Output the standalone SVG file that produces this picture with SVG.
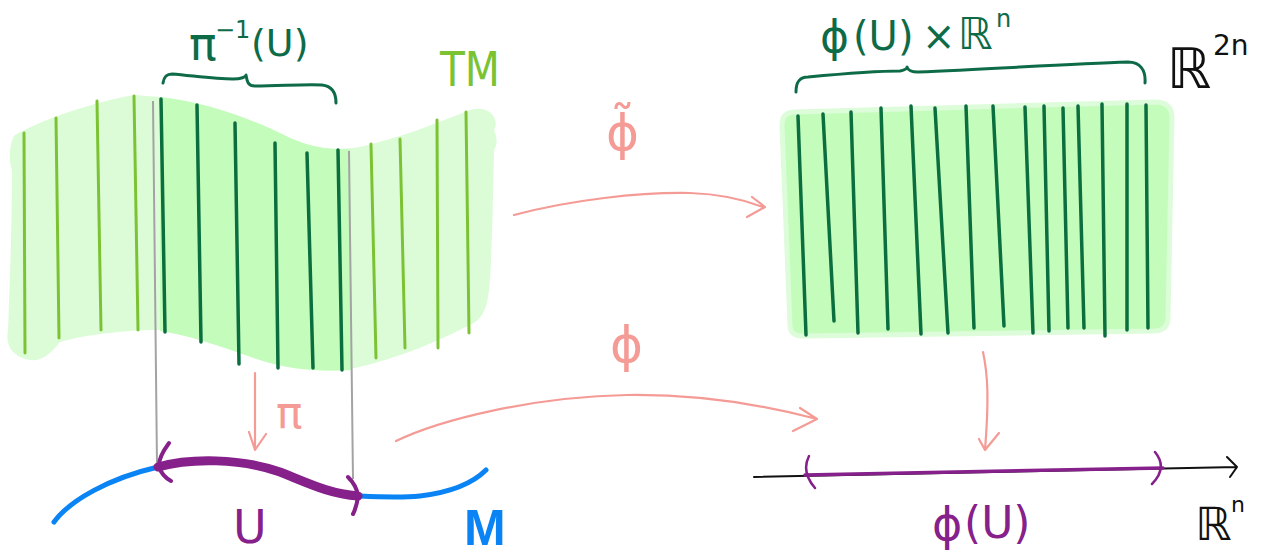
<svg xmlns="http://www.w3.org/2000/svg" width="1262" height="556" viewBox="0 0 1262 556">
<style>
.lg{stroke:#7cc334;stroke-width:3;fill:none;stroke-linecap:round}
.dg{stroke:#0b6e3f;stroke-width:3.5;fill:none;stroke-linecap:round}
.grey{stroke:#a3a3a3;stroke-width:2;fill:none}
.pink{stroke:#f59b96;stroke-width:2.2;fill:none;stroke-linecap:round;stroke-linejoin:round}
.brace{stroke:#0e6b48;stroke-width:3;fill:none;stroke-linecap:round;stroke-linejoin:round}
.purple{stroke:#86208a;fill:none;stroke-linecap:round;stroke-linejoin:round}
.blue{stroke:#0a84f5;stroke-width:5;fill:none;stroke-linecap:round}
.t{font-family:"DejaVu Sans","Liberation Sans",sans-serif}
</style>
<rect width="1262" height="556" fill="#ffffff"/>

<g id="TM">
<path d="M15,135 C40,120 100,100 135,95 L160,97 C220,105 260,125 300,142 C320,150 340,150 360,147 C400,138 440,122 470,110 C490,104 500,120 494,130 C498,140 497,146 494,150 C493,200 492,250 490,280 C488,305 485,318 470,325 C440,340 400,358 355,368 C320,372 290,368 260,360 C230,350 190,335 160,330 C120,330 80,336 60,342 C50,355 40,362 30,360 C12,357 5,345 8,330 C10,280 12,220 12,170 C8,160 10,140 15,135 Z" fill="#dcfcd8"/>
<path d="M160,97 C210,103 250,118 290,138 C310,147 330,150 350,149 L352,370 C320,372 290,370 260,360 C230,350 195,336 160,331 Z" fill="#c4fcbc"/>
<path class="lg" d="M24,133 L25,353 M56,118 L59,338 M97,101 L101,330 M134,96 L138,330 M371,144 L376,358 M400,139 L405,348 M437,120 L438,348 M466,112 L469,333"/>
<path class="dg" d="M161,99 L165,332 M197,105 L201,342 M235,123 L239,364 M275,143 L278,368 M307,153 L313,368 M338,150 L342,370"/>
<text class="t" x="440" y="86" font-size="48" fill="#7cc334" textLength="60" lengthAdjust="spacingAndGlyphs">TM</text>
</g>

<g id="preimage-label">
<path class="brace" d="M163,83 C164,77 166,74 172,74 C195,76 215,79 233,79 C241,79 246,77 246,75 C247,80 247,86 255,86 C280,86 305,84 322,85 C332,86 336,92 336,103"/>
<text class="t" fill="#0e6b48"><tspan x="189" y="60" font-size="46">π</tspan><tspan x="215" y="38" font-size="24">−1</tspan><tspan x="251" y="56" font-size="38">(U)</tspan></text>
</g>

<g id="projections">
<path class="grey" d="M153,101 L157,465 M349,151 L353,479"/>
</g>

<g id="M">
<path class="blue" d="M54,522 C70,500 110,478 158,467 M358,496 C380,497 400,498 420,496 C445,493 470,486 486,470"/>
<path class="purple" stroke-width="9" d="M158,467 C190,458 240,458 280,472 C310,484 330,494 358,496"/>
<path class="purple" stroke-width="4" d="M169,443 Q158,458 159,467 Q162,476 171,481 M348,477 Q357,486 358,496 Q357,506 353,514"/>
<text class="t" x="233" y="543" font-size="46" fill="#86208a">U</text>
<text x="464" y="545" font-size="50" fill="#0a84f5" font-weight="bold" font-family="Liberation Sans, sans-serif">M</text>
</g>

<g id="R2n">
<path d="M795,112 L1155,102 Q1172,102 1172,118 L1168,318 Q1168,330 1155,331 L805,336 Q790,337 790,325 L782,125 Q782,112 795,112 Z" fill="#c4fcbc" stroke="#ddfcda" stroke-width="5"/>
<path class="dg" d="M798,116 L806,335 M823,114 L834,321 M851,112 L858,333 M881,108 L888,329 M911,106 L921,334 M935,108 L948,333 M966,106 L974,328 M993,106 L1004,326 M1025,107 L1033,333 M1044,106 L1049,331 M1063,108 L1068,328 M1078,106 L1084,328 M1102,104 L1105,336 M1127,104 L1127,330 M1146,105 L1148,328"/>
<path class="brace" d="M796,92 C796,84 798,77 808,77 C840,74 880,71 900,71 C905,70 907,69 907,67 C908,70 910,72 918,72 C990,69 1070,64 1128,62 C1140,62 1146,70 1145,83"/>
<text class="t" fill="#0e6b48"><tspan x="820" y="52" font-size="44">ϕ</tspan><tspan x="853" y="50" font-size="40">(U)</tspan><tspan x="922" y="50" font-size="40">×</tspan><tspan x="958" y="49" font-size="44">ℝ</tspan><tspan x="996" y="27" font-size="24">n</tspan></text>
<text class="t" fill="#111111"><tspan x="1167" y="88" font-size="56">ℝ</tspan><tspan x="1213" y="55" font-size="28">2n</tspan></text>
</g>

<g id="Rn">
<path d="M754,477 L1237,467 M1227,457 L1237,467 L1230,477" stroke="#111111" stroke-width="2" fill="none" stroke-linecap="round" stroke-linejoin="round"/>
<path class="purple" stroke-width="3.5" d="M805,475 L1163,468"/>
<path class="purple" stroke-width="2.5" d="M809,456 Q801,472 815,488 M1155,452 Q1168,468 1152,484"/>
<text class="t" fill="#86208a"><tspan x="932" y="540" font-size="46">ϕ</tspan><tspan x="964" y="538" font-size="44">(U)</tspan></text>
<text class="t" fill="#111111"><tspan x="1195" y="540" font-size="46">ℝ</tspan><tspan x="1231" y="512" font-size="22">n</tspan></text>
</g>

<g id="connectors">
<path class="pink" d="M255,373 L255,450 M249,432 L255,450 L266,434"/>
<path class="pink" d="M514,215 C570,200 640,192 690,193 C720,194 745,200 763,207 M752,197 L765,207 L747,217"/>
<path class="pink" d="M396,441 C440,420 530,397 627,395 C700,394 760,404 817,419 M800,408 L817,419 L793,431"/>
<path class="pink" d="M983,352 C988,375 989,400 985,450 M979,439 L985,450 L999,433"/>
<text class="t" x="276" y="428" font-size="44" fill="#f59b96">π</text>
<text class="t" x="606" y="150" font-size="50" fill="#f59b96">ϕ̃</text>
<text class="t" x="610" y="362" font-size="50" fill="#f59b96">ϕ</text>
</g>
</svg>
